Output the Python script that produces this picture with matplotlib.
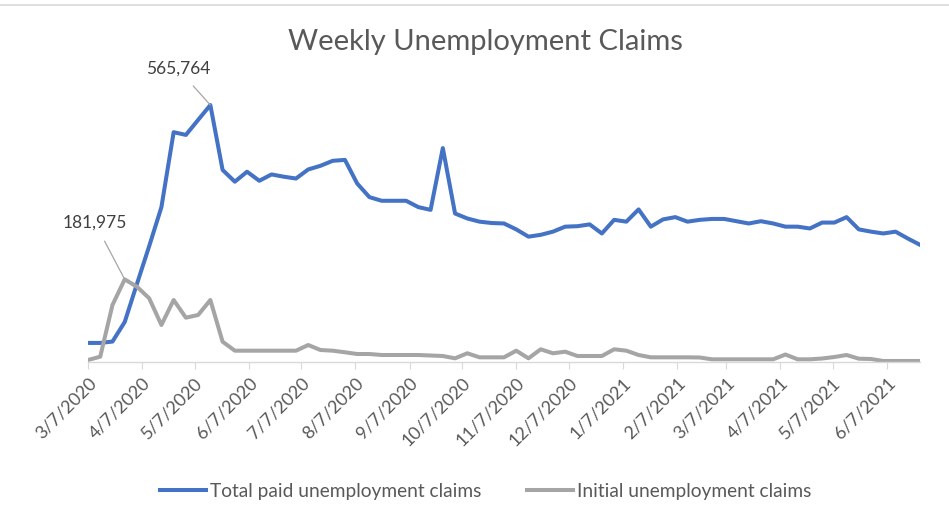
import matplotlib
matplotlib.use("Agg")
import matplotlib.pyplot as plt
import matplotlib.dates as mdates
from matplotlib.ticker import FuncFormatter
import pandas as pd

plt.rcParams['font.family'] = ['Lato', 'DejaVu Sans']

# weekly values, week ending Saturday, starting 3/7/2020
week_start = "2020-03-07"
total_paid = [42000, 42000, 45000, 88000, 172000, 255000, 341000, 506000, 500000, 533000,
              565764, 423000, 397000, 419000, 399000, 413000, 408000, 404000, 424000, 432000,
              443000, 445000, 393000, 363000, 355000, 355000, 355000, 341000, 335000, 471000,
              327000, 316000, 309000, 306000, 305000, 292000, 276000, 280000, 287000, 298000,
              299000, 303000, 283000, 313000, 309000, 336000, 298000, 314000, 319000, 309000,
              313000, 315000, 315000, 310000, 305000, 310000, 305000, 298000, 298000, 294000,
              307000, 307000, 319000, 292000, 287000, 283000, 287000, 272000, 258000]
initial = [4400, 11700, 125500, 181975, 165800, 140300, 81500, 136500, 97600, 103500,
           136500, 44700, 24900, 24900, 24900, 24900, 24900, 24900, 37400, 26400,
           24900, 21400, 17600, 17600, 15400, 15400, 15400, 15400, 14300, 13200,
           8100, 19200, 10300, 10300, 10300, 24900, 8100, 28000, 19200, 22700,
           13200, 13200, 13200, 28000, 24900, 15400, 10300, 10300, 10300, 10300,
           9900, 5900, 5900, 5900, 5900, 5900, 5900, 16500, 5900, 5900,
           7700, 11000, 15400, 7300, 6600, 2200, 2200, 2200, 2200]
series_names = ["Total paid unemployment claims", "Initial unemployment claims"]
dates = pd.date_range(week_start, periods=len(total_paid), freq="7D")

blue = "#4472C4"
gray = "#A5A5A5"
text_col = "#595959"

fig = plt.figure(figsize=(9.49, 5.23), dpi=100)
ax = fig.add_axes([88 / 949, 1 - 362 / 523, (920 - 88) / 949, (362 - 89.5) / 523])

ax.plot(dates, total_paid, color=blue, lw=2.9, label=series_names[0], solid_joinstyle="round")
ax.plot(dates, initial, color=gray, lw=2.9, label=series_names[1], solid_joinstyle="round")

ax.set_xlim(dates[0], dates[-1])
ax.set_ylim(0, 600000)

for s in ["top", "right", "left"]:
    ax.spines[s].set_visible(False)
ax.spines["bottom"].set_color("#D9D9D9")
ax.spines["bottom"].set_linewidth(1)
ax.set_yticks([])

ax.xaxis.set_major_locator(mdates.MonthLocator(bymonthday=7))
ax.xaxis.set_major_formatter(FuncFormatter(
    lambda v, p: (lambda d: f"{d.month}/{d.day}/{d.year}")(mdates.num2date(v))))
ax.tick_params(axis="x", length=5, color="#D9D9D9", labelcolor=text_col,
               labelsize=13, pad=4)
for lbl in ax.get_xticklabels():
    lbl.set_rotation(45)
    lbl.set_ha("right")
    lbl.set_va("top")
    lbl.set_rotation_mode("anchor")

# data labels on the peaks
i_peak = total_paid.index(max(total_paid))
ax.annotate(f"{total_paid[i_peak]:,}", xy=(dates[i_peak], total_paid[i_peak]),
            xytext=(178, 523 - 69), textcoords="figure pixels", ha="center", va="center",
            fontsize=12.5, color="#404040",
            arrowprops=dict(arrowstyle="-", color="#A6A6A6", lw=0.9, shrinkA=6, shrinkB=0))
i_init = initial.index(max(initial))
ax.annotate(f"{initial[i_init]:,}", xy=(dates[i_init], initial[i_init]),
            xytext=(95, 523 - 223), textcoords="figure pixels", ha="center", va="center",
            fontsize=12.5, color="#404040",
            arrowprops=dict(arrowstyle="-", color="#A6A6A6", lw=0.9, shrinkA=6, shrinkB=0))

fig.text(485 / 949, 1 - 42 / 523, "Weekly Unemployment Claims", ha="center", va="center",
         fontsize=21, color=text_col)

fig.legend(loc="center", bbox_to_anchor=(486 / 949, 1 - 491 / 523), ncol=2, frameon=False,
           fontsize=13.8, handlelength=2.4, handletextpad=0.2, columnspacing=2.4,
           labelcolor=text_col)

# thin frame line along the top of the chart area
fig.add_artist(plt.Line2D([0, 1], [1 - 5 / 523, 1 - 5 / 523], color="#D9D9D9", lw=1.2))

fig.savefig("out.png", dpi=100)
